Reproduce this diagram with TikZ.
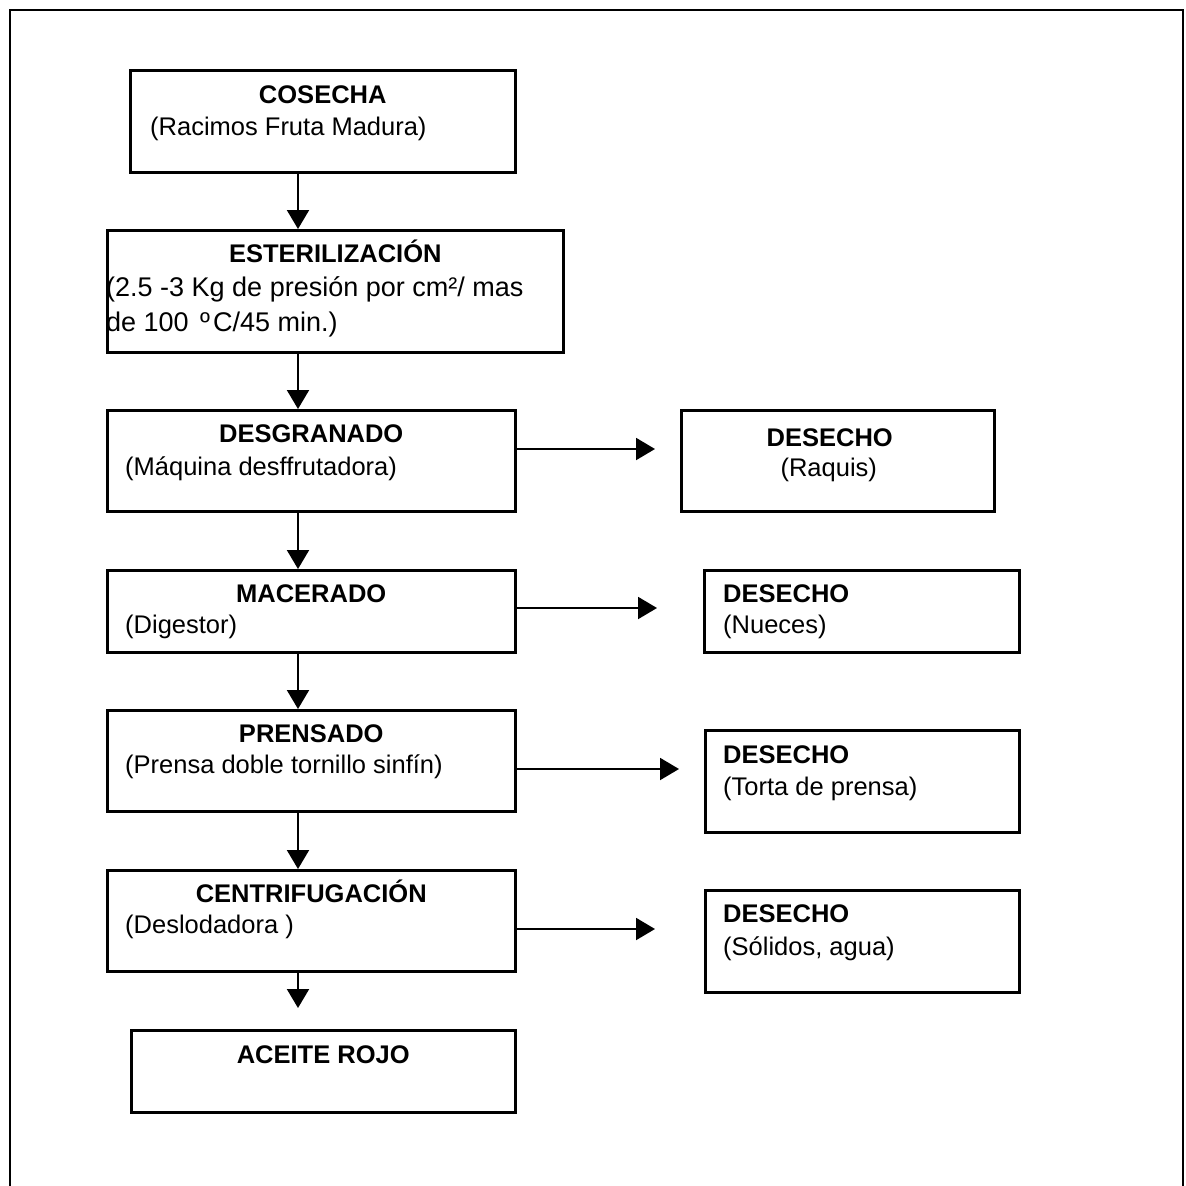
\documentclass[tikz,border=0pt]{standalone}
\usepackage{fontspec}
\setmainfont{Liberation Sans}[Ligatures=CommonOff]
\usetikzlibrary{arrows.meta,calc}
\begin{document}
\begin{tikzpicture}[x=1pt,y=-1pt,
  box/.style={draw,line width=2.5pt,inner sep=0pt,anchor=north west},
  head/.style={inner sep=0pt,anchor=base,font=\fontsize{25.5}{34}\selectfont\bfseries},
  headl/.style={inner sep=0pt,anchor=base west,font=\fontsize{25.5}{34}\selectfont\bfseries},
  sub/.style={inner sep=0pt,anchor=base west,font=\fontsize{25.5}{34}\selectfont},
  subbig/.style={inner sep=0pt,anchor=base west,font=\fontsize{27}{34}\selectfont},
  subc/.style={inner sep=0pt,anchor=base,font=\fontsize{25.5}{34}\selectfont},
  arr/.style={line width=2pt,-{Triangle[length=19pt,width=22pt]}},
  frame/.style={line width=2.3pt}
]
\useasboundingbox (0,0) rectangle (1186,1186);
\draw[frame] (10,1186) -- (10,10) -- (1183,10) -- (1183,1186);

% main column boxes
\node[box,minimum width=385pt,minimum height=102pt] (cos)  at (129,69)   {};
\node[box,minimum width=456pt,minimum height=122pt] (est)  at (106,229)  {};
\node[box,minimum width=408pt,minimum height=101pt] (desg) at (106,409)  {};
\node[box,minimum width=408pt,minimum height=82pt]  (mac)  at (106,569)  {};
\node[box,minimum width=408pt,minimum height=101pt] (pren) at (106,709)  {};
\node[box,minimum width=408pt,minimum height=101pt] (cent) at (106,869)  {};
\node[box,minimum width=384pt,minimum height=82pt]  (acei) at (130,1029) {};

% waste boxes
\node[box,minimum width=313pt,minimum height=101pt] (d1) at (680,409) {};
\node[box,minimum width=315pt,minimum height=82pt]  (d2) at (703,569) {};
\node[box,minimum width=314pt,minimum height=102pt] (d3) at (704,729) {};
\node[box,minimum width=314pt,minimum height=102pt] (d4) at (704,889) {};

% texts
\node[head] (cosH) at ($(cos.north)+(0,34)$) {COSECHA};
\node[sub]  (cosS) at ($(cos.north west)+(21,66)$) {(Racimos Fruta Madura)};

\node[head]   (estH)  at ($(est.north)+(0,33)$) {ESTERILIZACIÓN};
\node[subbig] (estS1) at ($(est.north west)+(0,67)$) {(2.5 -3 Kg de presión por cm²/ mas};
\node[subbig] (estS2) at ($(est.north west)+(0,102)$) {de 100 \kern4ptº\kern3ptC/45 min.)};

\node[head] (desgH) at ($(desg.north)+(0,33)$) {DESGRANADO};
\node[sub]  (desgS) at ($(desg.north west)+(19,66)$) {(Máquina desffrutadora)};

\node[head] (macH) at ($(mac.north)+(0,33)$) {MACERADO};
\node[sub]  (macS) at ($(mac.north west)+(19,64)$) {(Digestor)};

\node[head] (prenH) at ($(pren.north)+(0,33)$) {PRENSADO};
\node[sub]  (prenS) at ($(pren.north west)+(19,64)$) {(Prensa doble tornillo sinfín)};

\node[head] (centH) at ($(cent.north)+(0,33)$) {CENTRIFUGACIÓN};
\node[sub]  (centS) at ($(cent.north west)+(19,64)$) {(Deslodadora )};

\node[head] (aceiH) at ($(acei.north)+(0,34)$) {ACEITE ROJO};

\node[head] (d1H) at ($(d1.north)+(-8,37)$) {DESECHO};
\node[subc] (d1S) at ($(d1.north)+(-9,67)$) {(Raquis)};

\node[headl] (d2H) at ($(d2.north west)+(20,33)$) {DESECHO};
\node[sub]   (d2S) at ($(d2.north west)+(20,64)$) {(Nueces)};

\node[headl] (d3H) at ($(d3.north west)+(19,34)$) {DESECHO};
\node[sub]   (d3S) at ($(d3.north west)+(19,66)$) {(Torta de prensa)};

\node[headl] (d4H) at ($(d4.north west)+(19,33)$) {DESECHO};
\node[sub]   (d4S) at ($(d4.north west)+(19,66)$) {(Sólidos, agua)};

% vertical connectors
\coordinate (ax) at (298,0);
\coordinate (t0) at (298,1008);
\draw[arr] (cos.south -| ax)  -- (est.north -| ax);
\draw[arr] (est.south -| ax)  -- (desg.north -| ax);
\draw[arr] (desg.south -| ax) -- (mac.north -| ax);
\draw[arr] (mac.south -| ax)  -- (pren.north -| ax);
\draw[arr] (pren.south -| ax) -- (cent.north -| ax);
\draw[arr] (cent.south -| ax) -- (t0);

% horizontal connectors
\coordinate (t1) at (655,449);
\coordinate (t2) at (657,608);
\coordinate (t3) at (679,769);
\coordinate (t4) at (655,929);
\draw[arr] (desg.east |- t1) -- (t1);
\draw[arr] (mac.east |- t2)  -- (t2);
\draw[arr] (pren.east |- t3) -- (t3);
\draw[arr] (cent.east |- t4) -- (t4);
\end{tikzpicture}
\end{document}
